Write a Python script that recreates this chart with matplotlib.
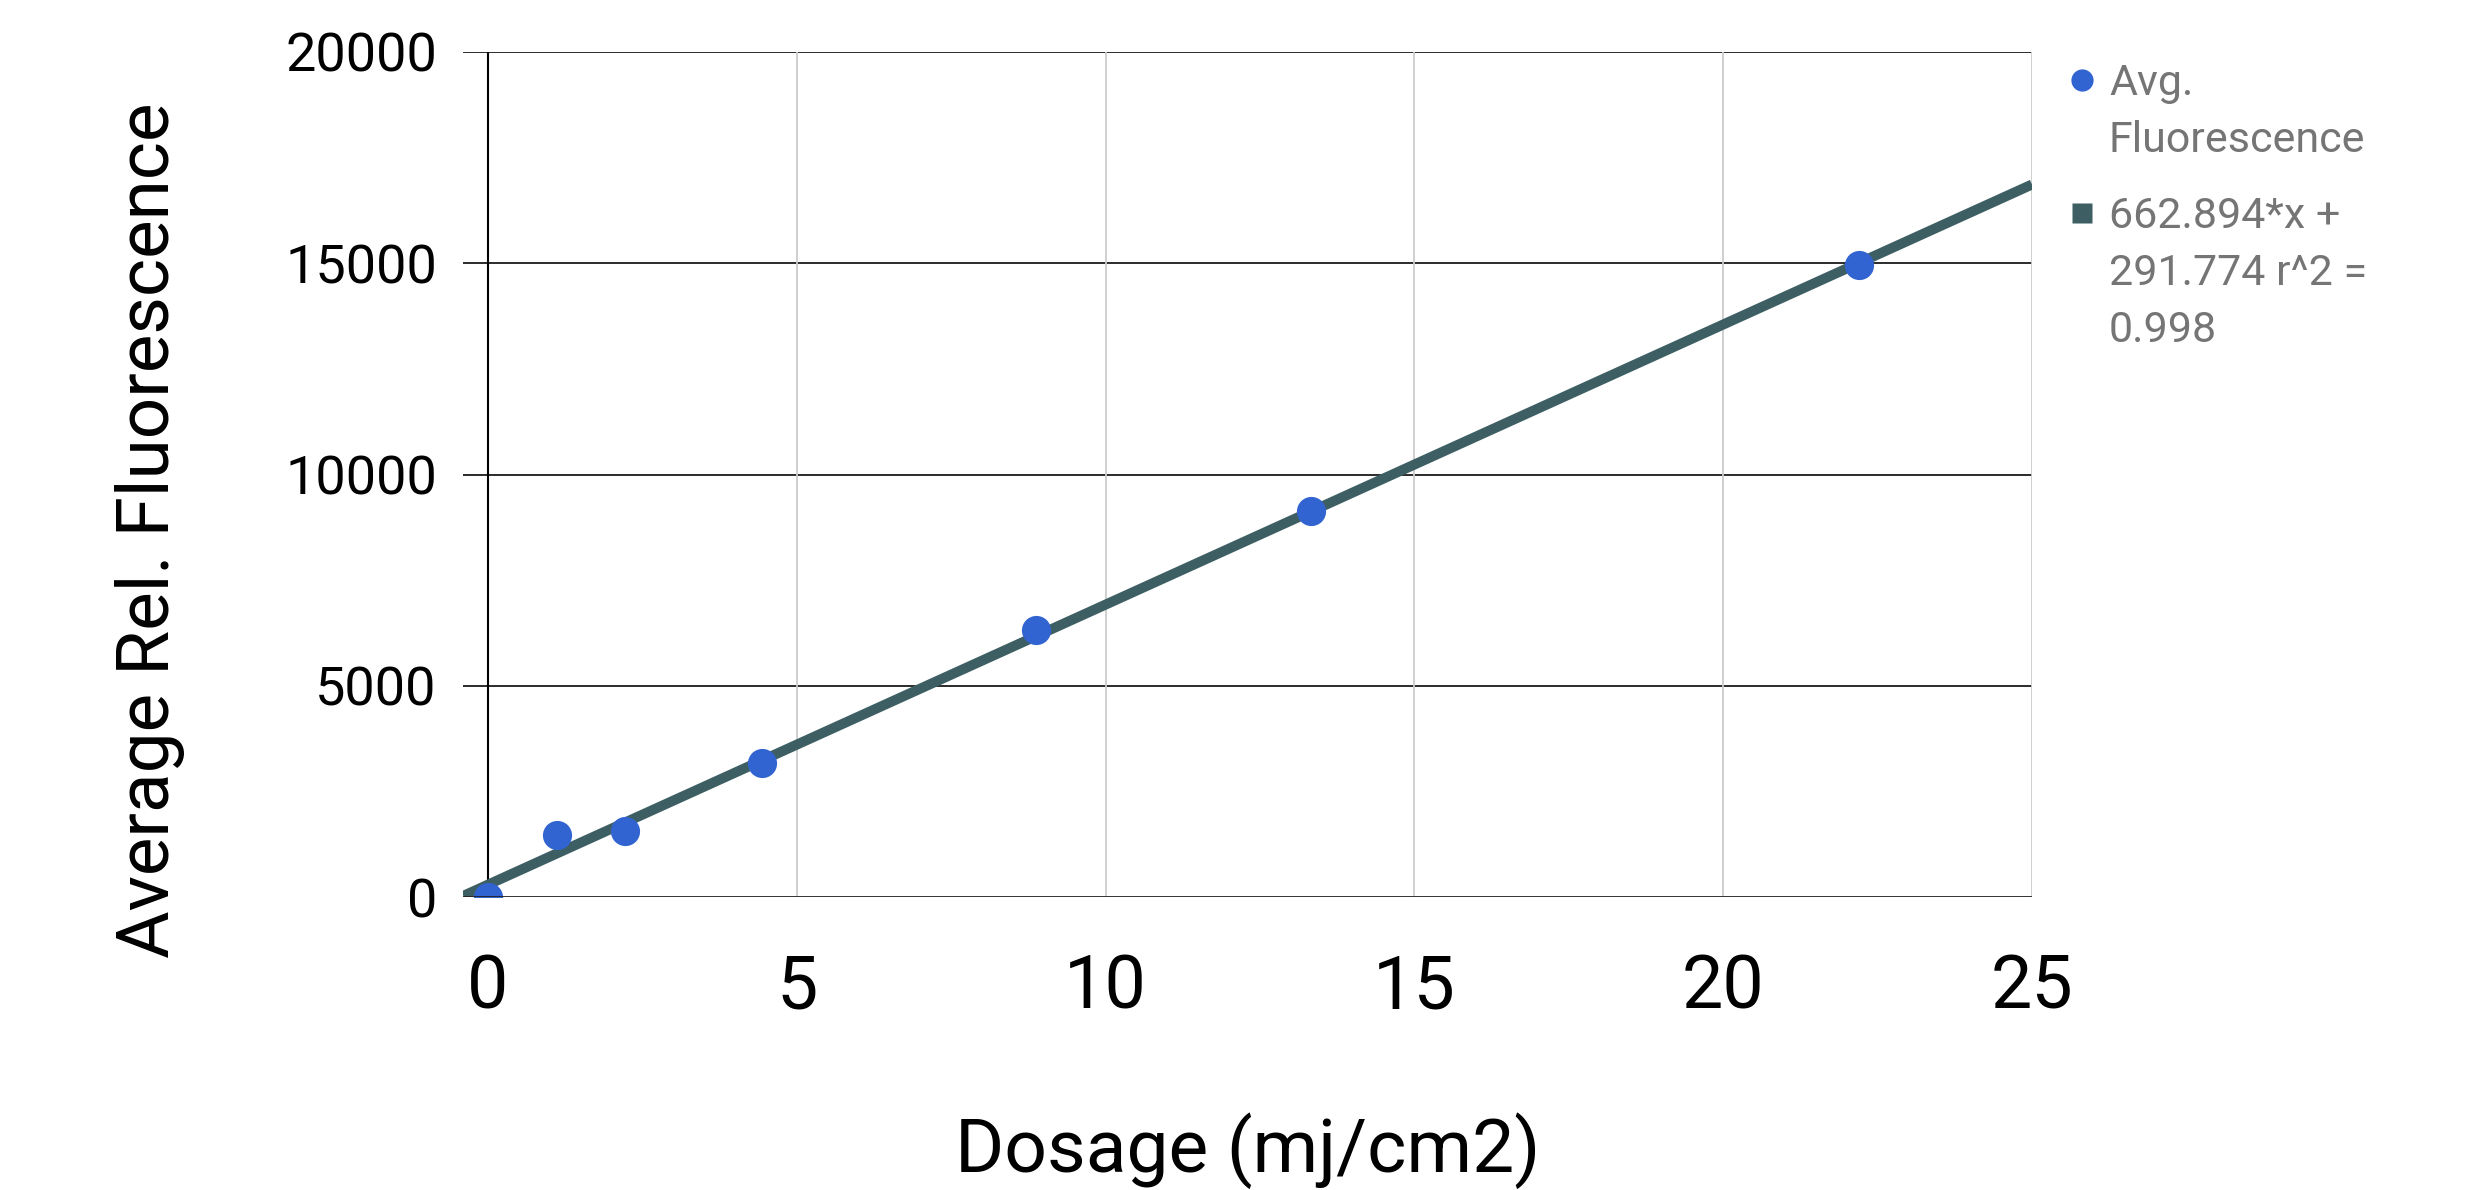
import numpy as np
import matplotlib
matplotlib.use("Agg")
import matplotlib.pyplot as plt
from matplotlib.lines import Line2D

plt.rcParams["font.family"] = ["Roboto", "DejaVu Sans"]

# -- data --------------------------------------------------------------------
dosage = [0, 1.11, 2.22, 4.44, 8.88, 13.32, 22.2]
fluor = [0, 1470, 1565, 3175, 6320, 9140, 14960]
slope, intercept = 662.894, 291.774
x_ticks = [0, 5, 10, 15, 20, 25]
y_ticks = [0, 5000, 10000, 15000, 20000]
series_label = ["Avg.", "Fluorescence"]
trend_label = ["662.894*x +", "291.774 r^2 =", "0.998"]

PT_BLUE = "#3164d1"
TREND = "#3d5f63"
LEGEND_GREY = "#757575"

W, H = 2481, 1190
fig = plt.figure(figsize=(W / 100, H / 100), dpi=100)
ax = fig.add_axes([463.3 / W, 1 - 897 / H, (2032 - 463.3) / W, (897 - 52) / H])

xmin, xmax = -0.4, 25
ax.set_xlim(xmin, xmax)
ax.set_ylim(0, 20000)

# grid: dark horizontal, light vertical
for y in y_ticks[1:]:
    ax.axhline(y, color="#1a1a1a", lw=1.3, zorder=1)
for x in x_ticks[1:]:
    ax.axvline(x, color="#cccccc", lw=1.3, zorder=1)
ax.axvline(0, color="black", lw=1.5, zorder=2)
ax.axhline(0, color="#222222", lw=2.0, zorder=5)

for s in ax.spines.values():
    s.set_visible(False)

# trendline + points (points clipped at the plot area, like the original)
tx = np.array([xmin, xmax])
ax.plot(tx, slope * tx + intercept, color=TREND, lw=7.2,
        solid_capstyle="butt", zorder=3)
ax.plot(dosage, fluor, "o", color=PT_BLUE, ms=21, mec="none", zorder=4)

ax.set_xticks(x_ticks)
ax.set_yticks(y_ticks)
ax.tick_params(axis="both", length=0)
ax.tick_params(axis="x", labelsize=53, pad=40)
ax.tick_params(axis="y", labelsize=39, pad=19)
ax.set_xlabel("Dosage (mj/cm2)", fontsize=54, labelpad=64)

fig.text(150 / W, 1 - 530 / H, "Average Rel. Fluorescence", rotation=90,
         ha="center", va="center", fontsize=52.5)

# -- legend ------------------------------------------------------------------
LINE_STEP = 57
fig.add_artist(Line2D([2082 / W], [1 - 80 / H], marker="o", ms=16,
                      color=PT_BLUE, mec="none", transform=fig.transFigure))
fig.add_artist(Line2D([2082 / W], [1 - 213 / H], marker="s", ms=15,
                      color=TREND, mec="none", transform=fig.transFigure))
for base, lines in ((95, series_label), (228, trend_label)):
    for i, txt in enumerate(lines):
        fig.text(2109 / W, 1 - (base + i * LINE_STEP) / H, txt, ha="left",
                 va="baseline", fontsize=31, color=LEGEND_GREY)

fig.savefig("out.png", dpi=100)
